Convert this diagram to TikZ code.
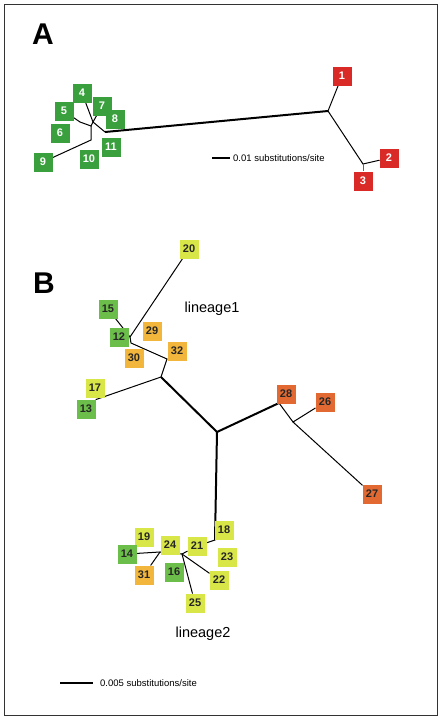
\documentclass[tikz,border=0pt]{standalone}
\usepackage{fontspec}
\setmainfont{Liberation Sans}
\usetikzlibrary{backgrounds}
\definecolor{redA}{RGB}{218,42,40}
\definecolor{greenA}{RGB}{58,160,62}
\definecolor{greenB}{RGB}{108,190,74}
\definecolor{yelB}{RGB}{216,230,72}
\definecolor{orB}{RGB}{242,182,60}
\definecolor{dorB}{RGB}{226,106,50}
\begin{document}
\begin{tikzpicture}[x=1pt,y=-1pt,
  leaf/.style={rectangle,minimum width=19pt,minimum height=19pt,inner sep=0pt,
    font=\fontsize{11}{12}\selectfont\bfseries},
  la/.style={leaf,fill=greenA,text=white},
  lr/.style={leaf,fill=redA,text=white},
  lg/.style={leaf,fill=greenB,text=black!85},
  ly/.style={leaf,fill=yelB,text=black!85},
  lo/.style={leaf,fill=orB,text=black!85},
  ld/.style={leaf,fill=dorB,text=black!85},
  br/.style={line width=1pt,line cap=round},
  thk/.style={line width=2pt},
  panel/.style={font=\fontsize{30}{32}\selectfont\bfseries},
  scl/.style={font=\fontsize{9.5}{11}\selectfont,anchor=west,inner sep=0pt},
  lin/.style={font=\fontsize{14.5}{16}\selectfont,inner sep=0pt}]
\useasboundingbox (0,0) rectangle (442,720);
\node[draw=black!80,line width=1pt,minimum width=433pt,minimum height=711pt,inner sep=0pt] (frame) at (220.75,359.75) {};

% ---------- Panel A ----------
\node[panel] (labA) at (43,34) {A};
\node[lr] (n1) at (342,76) {1};
\node[lr] (n2) at (389,158) {2};
\node[lr] (n3) at (363,181) {3};
\node[la] (n4) at (82,93) {4};
\node[la] (n5) at (64,111) {5};
\node[la] (n6) at (60,133) {6};
\node[la] (n7) at (102,106) {7};
\node[la] (n8) at (115,119) {8};
\node[la] (n9) at (43,162) {9};
\node[la] (n10) at (89,159) {10};
\node[la] (n11) at (111,147) {11};

\coordinate (jA) at (328,111);
\coordinate (jA23) at (363,164);
\coordinate (cA0) at (105,132);
\coordinate (cA1) at (93,122);
\coordinate (cA2) at (91,126);
\coordinate (cA5) at (80,122);
\coordinate (cA3) at (91,140);
\coordinate (sA0) at (212,158);
\coordinate (sA1) at (230,158);

\begin{scope}[on background layer]
\draw[thk] (cA0) -- (jA);
\draw[br] (jA) -- (n1);
\draw[br] (jA) -- (jA23) -- (n2);
\draw[line width=0.6pt,black!60] (jA23) -- (n3);
\draw[br] (cA0) -- (cA1) -- (n4);
\draw[br] (cA1) -- (n7);
\draw[br] (cA1) -- (cA2) -- (cA5) -- (n5);
\draw[br] (cA2) -- (cA3) -- (n9);
\end{scope}
\draw[thk] (sA0) -- (sA1);
\node[scl] (tA) at (233,158) {0.01 substitutions/site};

% ---------- Panel B ----------
\node[panel] (labB) at (44,283) {B};
\node[ly] (n20) at (189,249) {20};
\node[lg] (n15) at (108,309) {15};
\node[lg] (n12) at (119,337) {12};
\node[lo] (n29) at (152,331) {29};
\node[lo] (n30) at (134,358) {30};
\node[lo] (n32) at (177,351) {32};
\node[ly] (n17) at (95,388) {17};
\node[lg] (n13) at (86,409) {13};
\node[ld] (n28) at (286,394) {28};
\node[ld] (n26) at (325,402) {26};
\node[ld] (n27) at (372,494) {27};
\node[ly] (n18) at (224,530) {18};
\node[ly] (n21) at (197,546) {21};
\node[ly] (n23) at (227,557) {23};
\node[ly] (n24) at (170,545) {24};
\node[ly] (n19) at (144,537) {19};
\node[lg] (n14) at (127,554) {14};
\node[lo] (n31) at (144,575) {31};
\node[lg] (n16) at (174,572) {16};
\node[ly] (n22) at (219,580) {22};
\node[ly] (n25) at (195,603) {25};
\node[lin] (lin1) at (212,309) {lineage1};
\node[lin] (lin2) at (203,634) {lineage2};

\coordinate (cB0) at (217,432);
\coordinate (cB1) at (130,337);
\coordinate (cB2) at (131,343);
\coordinate (cB3) at (167,359);
\coordinate (cB4) at (161,377);
\coordinate (cB13) at (96,399.5);
\coordinate (cB5) at (279,403);
\coordinate (cB6) at (293,422);
\coordinate (cB7) at (215,540);
\coordinate (cB8) at (182,554);
\coordinate (cB9) at (160,552);
\coordinate (sB0) at (60,683);
\coordinate (sB1) at (93,683);

\begin{scope}[on background layer]
\draw[br] (cB1) -- (n20);
\draw[br] (cB1) -- (n15);
\draw[br] (cB1) -- (cB2) -- (cB3) -- (cB4);
\draw[br] (cB4) -- (cB13);
\draw[thk] (cB4) -- (cB0);
\draw[thk] (cB0) -- (cB5);
\draw[br] (cB5) -- (cB6) -- (n26);
\draw[br] (cB6) -- (n27);
\draw[thk] (cB0) -- (cB7);
\draw[br] (cB7) -- (n21);
\draw[br] (n21) -- (cB8);
\draw[br] (cB8) -- (n22);
\draw[br] (cB8) -- (n25);
\draw[br] (cB8) -- (cB9);
\draw[br] (cB9) -- (n14);
\draw[br] (cB9) -- (n31);
\end{scope}
\draw[thk] (sB0) -- (sB1);
\node[scl] (tB) at (100,683) {0.005 substitutions/site};
\end{tikzpicture}
\end{document}
